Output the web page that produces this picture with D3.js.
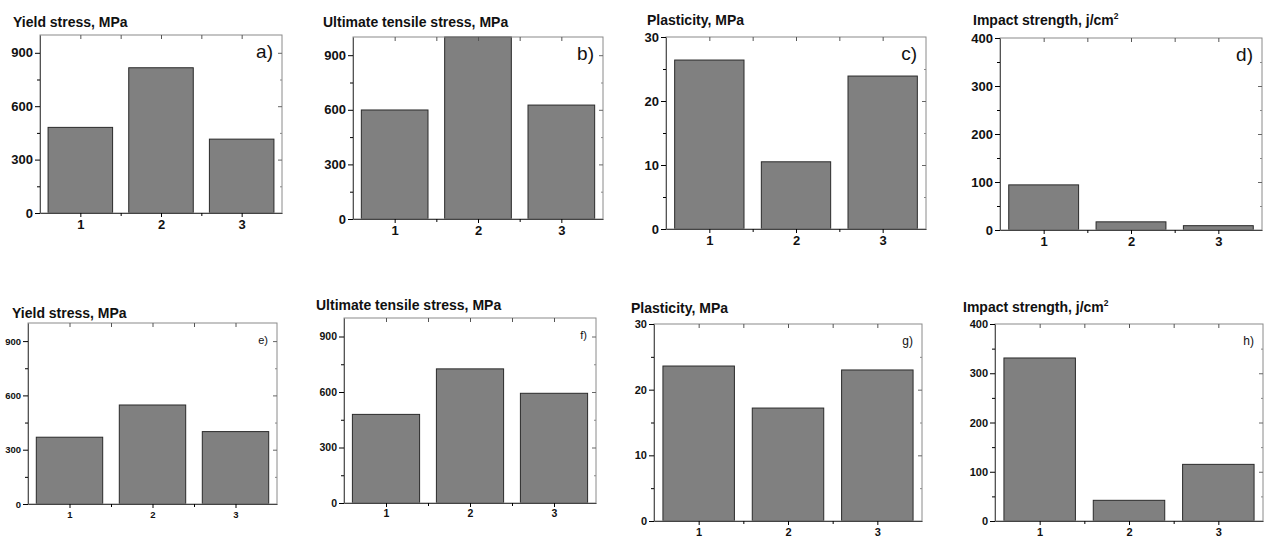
<!DOCTYPE html>
<html>
<head>
<meta charset="utf-8">
<script src="https://cdn.jsdelivr.net/npm/d3@7"></script>
<style>
  body { margin: 0; background: #fff; }
  svg { font-family: "Liberation Sans", Arial, sans-serif; }
</style>
</head>
<body>
<svg width="1267" height="539"></svg>
<script>
// categories and values
const categories = [1, 2, 3];

const yieldTop = [481, 816, 415];
const utsTop = [599, 1000, 626];
const plasticityTop = [26.4, 10.5, 23.9];
const impactTop = [94, 17, 9];

const yieldBottom = [369, 547, 400];
const utsBottom = [479, 725, 593];
const plasticityBottom = [23.6, 17.2, 23.0];
const impactBottom = [331, 42, 115];

const stressTicks = [0, 300, 600, 900];
const plasticityTicks = [0, 10, 20, 30];
const impactTicks = [0, 100, 200, 300, 400];

const svg = d3.select("svg");

const panels = [
  { values: yieldTop, ticks: stressTicks, max: 1000, title: "Yield stress, MPa", tag: "a)",
    box: [40, 35, 282, 213], titleAt: [13, 27], tickFont: 13, tagFont: 19 },
  { values: utsTop, ticks: stressTicks, max: 1000, title: "Ultimate tensile stress, MPa", tag: "b)",
    box: [353, 37, 603, 219], titleAt: [323, 27], tickFont: 13, tagFont: 19 },
  { values: plasticityTop, ticks: plasticityTicks, max: 30, title: "Plasticity, MPa", tag: "c)",
    box: [666, 37, 926, 229], titleAt: [647, 25], tickFont: 13, tagFont: 19 },
  { values: impactTop, ticks: impactTicks, max: 400, title: "Impact strength, j/cm", sup: "2", tag: "d)",
    box: [1000, 38, 1262, 230], titleAt: [973, 25], tickFont: 13, tagFont: 19 },
  { values: yieldBottom, ticks: stressTicks, max: 1000, title: "Yield stress, MPa", tag: "e)",
    box: [28, 323, 277, 504], titleAt: [12, 318], tickFont: 9.5, tagFont: 11 },
  { values: utsBottom, ticks: stressTicks, max: 1000, title: "Ultimate tensile stress, MPa", tag: "f)",
    box: [344, 318, 596, 503], titleAt: [316, 310], tickFont: 10.5, tagFont: 11 },
  { values: plasticityBottom, ticks: plasticityTicks, max: 30, title: "Plasticity, MPa", tag: "g)",
    box: [654, 324, 922, 521], titleAt: [631, 313], tickFont: 11, tagFont: 12 },
  { values: impactBottom, ticks: impactTicks, max: 400, title: "Impact strength, j/cm", sup: "2", tag: "h)",
    box: [995, 324, 1263, 521], titleAt: [963, 312], tickFont: 11, tagFont: 12 }
];

function drawPanel(p) {
  const [left, top, right, bottom] = p.box;
  const x = d3.scaleLinear().domain([0.5, 3.5]).range([left, right]);
  const y = d3.scaleLinear().domain([0, p.max]).range([bottom, top]);
  const step = p.ticks[1] - p.ticks[0];
  const minor = d3.range(step / 2, p.max, step);

  const g = svg.append("g");

  // bars
  g.selectAll("rect.bar")
    .data(p.values)
    .join("rect")
    .attr("class", "bar")
    .attr("x", (d, i) => x(categories[i] - 0.4))
    .attr("width", x(0.9) - x(0.1))
    .attr("y", d => y(Math.min(d, p.max)))
    .attr("height", d => y(0) - y(Math.min(d, p.max)))
    .attr("fill", "#808080")
    .attr("stroke", "#2a2a2a")
    .attr("stroke-width", 1);

  // frame
  g.append("rect")
    .attr("x", left).attr("y", top)
    .attr("width", right - left).attr("height", bottom - top)
    .attr("fill", "none").attr("stroke", "#8a8a8a");

  // left axis
  const la = g.append("g").attr("transform", `translate(${left},0)`)
    .call(d3.axisLeft(y).tickValues(p.ticks).tickSize(5).tickSizeOuter(0).tickPadding(2));
  la.select(".domain").attr("stroke", "#555");
  la.selectAll("text").attr("font-size", p.tickFont).attr("font-weight", "bold")
    .attr("font-family", "Liberation Sans, Arial, sans-serif").attr("fill", "#111");
  g.append("g").attr("transform", `translate(${left},0)`)
    .call(d3.axisLeft(y).tickValues(minor).tickSize(3).tickSizeOuter(0).tickFormat(""))
    .select(".domain").remove();

  // right axis ticks (inward)
  const lastTick = p.ticks[p.ticks.length - 1];
  g.append("g").attr("transform", `translate(${right},0)`)
    .call(d3.axisLeft(y).tickValues(p.ticks.filter(v => v > 0 && v < p.max)).tickSize(4).tickSizeOuter(0).tickFormat(""))
    .call(a => a.select(".domain").remove())
    .selectAll("line").attr("stroke", "#666");
  g.append("g").attr("transform", `translate(${right},0)`)
    .call(d3.axisLeft(y).tickValues(minor).tickSize(2).tickSizeOuter(0).tickFormat(""))
    .call(a => a.select(".domain").remove())
    .selectAll("line").attr("stroke", "#888");

  // bottom axis
  const ba = g.append("g").attr("transform", `translate(0,${bottom})`)
    .call(d3.axisBottom(x).tickValues(categories).tickSize(4).tickSizeOuter(0).tickPadding(3).tickFormat(d3.format("d")));
  ba.select(".domain").attr("stroke", "#444");
  ba.selectAll("text").attr("font-size", p.tickFont).attr("font-weight", "bold")
    .attr("font-family", "Liberation Sans, Arial, sans-serif").attr("fill", "#111");
  g.append("g").attr("transform", `translate(0,${bottom})`)
    .call(d3.axisBottom(x).tickValues([1.5, 2.5]).tickSize(3).tickSizeOuter(0).tickFormat(""))
    .select(".domain").remove();

  // top axis ticks (inward)
  g.append("g").attr("transform", `translate(0,${top})`)
    .call(d3.axisBottom(x).tickValues(categories.concat([1.5, 2.5])).tickSize(4).tickSizeOuter(0).tickFormat(""))
    .call(a => a.select(".domain").remove())
    .selectAll("line").attr("stroke", "#555");

  // title
  const t = g.append("text")
    .attr("x", p.titleAt[0]).attr("y", p.titleAt[1])
    .attr("font-size", 14).attr("font-weight", "bold").attr("fill", "#111")
    .text(p.title);
  if (p.sup) {
    t.append("tspan").attr("dy", -6).attr("font-size", 8.5).text(p.sup);
  }

  // panel tag
  g.append("text")
    .attr("x", right - 9).attr("y", top + 18)
    .attr("text-anchor", "end").attr("dominant-baseline", "middle")
    .attr("font-size", p.tagFont).attr("fill", "#111")
    .text(p.tag);
}

panels.forEach(drawPanel);
</script>
</body>
</html>
